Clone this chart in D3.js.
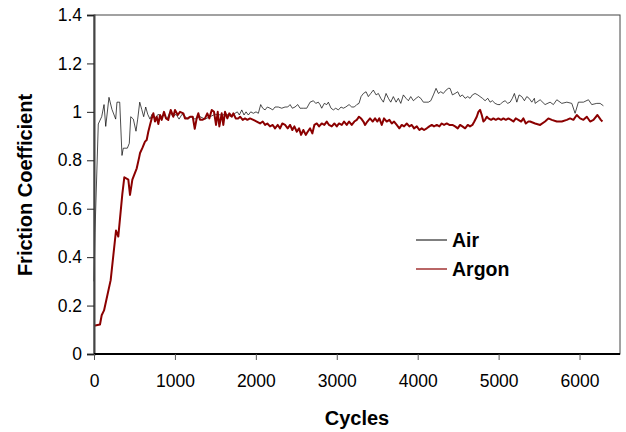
<!DOCTYPE html>
<html>
<head>
<meta charset="utf-8">
<script src="https://cdn.jsdelivr.net/npm/d3@7"></script>
<style>
  body { margin: 0; background: #fff; }
  svg { display: block; font-family: "Liberation Sans", Arial, sans-serif; }
</style>
</head>
<body>
<div id="chart"></div>
<script>
// tick values
const xTicks = [0, 1000, 2000, 3000, 4000, 5000, 6000];
const yTicks = [0, 0.2, 0.4, 0.6, 0.8, 1, 1.2, 1.4];

// Air run (cycles, friction coefficient)
const airCycles = [0, 12, 53, 95, 124, 145, 185, 222, 268, 284, 318, 346, 362, 412, 436, 454, 486, 519, 540, 565,
  590, 614, 639, 664, 692, 717, 754, 791, 828, 865, 902, 939, 976, 1014, 1051, 1088, 1125, 1162, 1199, 1248,
  1310, 1372, 1434, 1496, 1578, 1640, 1693, 1743, 1771, 1796, 1826, 1854, 1879, 1907, 1937, 1969, 2002, 2031, 2060, 2085,
  2114, 2142, 2175, 2209, 2237, 2278, 2320, 2361, 2394, 2423, 2451, 2484, 2518, 2546, 2587, 2629, 2670, 2711, 2740, 2772,
  2793, 2814, 2846, 2876, 2896, 2929, 2958, 2987, 3020, 3053, 3081, 3111, 3152, 3185, 3217, 3247, 3275, 3300, 3329, 3362,
  3390, 3420, 3452, 3486, 3514, 3544, 3576, 3609, 3638, 3667, 3699, 3733, 3761, 3791, 3823, 3856, 3885, 3914, 3947, 3980,
  4008, 4038, 4070, 4104, 4132, 4162, 4194, 4227, 4256, 4285, 4317, 4351, 4379, 4400, 4429, 4462, 4495, 4524, 4552, 4586,
  4619, 4647, 4676, 4709, 4743, 4771, 4800, 4833, 4866, 4895, 4923, 4956, 4990, 5018, 5047, 5080, 5113, 5142, 5170, 5195,
  5225, 5253, 5286, 5319, 5348, 5377, 5410, 5442, 5451, 5513, 5574, 5636, 5677, 5719, 5781, 5843, 5904, 5945, 5986, 6048,
  6110, 6151, 6213, 6254, 6295];
const airValues = [0.3, 0.5, 0.95, 0.98, 1.03, 0.94, 1.06, 1.01, 0.97, 1.04, 1.04, 0.82, 0.85, 0.85, 0.87, 0.98, 0.97, 0.92, 0.97, 1.04,
  1.01, 0.98, 1.02, 0.99, 0.97, 0.99, 0.97, 0.99, 0.98, 0.99, 0.97, 1.0, 0.98, 0.99, 0.97, 0.99, 0.98, 0.97, 0.98, 0.97,
  0.98, 0.97, 0.98, 0.99, 0.987, 0.99, 0.98, 0.994, 1.0, 0.987, 1.008, 0.987, 1.0, 0.987, 1.0, 0.994, 1.0, 0.994, 1.03, 1.015,
  1.008, 1.02, 1.015, 1.008, 1.02, 1.02, 1.015, 1.02, 1.02, 1.03, 1.015, 1.02, 1.03, 1.015, 1.015, 1.015, 1.04, 1.046, 1.035, 1.04,
  1.03, 1.015, 1.035, 1.03, 1.04, 1.015, 1.008, 1.015, 1.008, 1.02, 1.015, 1.02, 1.03, 1.02, 1.02, 1.03, 1.035, 1.063, 1.076, 1.083,
  1.063, 1.076, 1.09, 1.07, 1.076, 1.056, 1.04, 1.076, 1.056, 1.04, 1.063, 1.04, 1.056, 1.035, 1.07, 1.056, 1.046, 1.063, 1.046, 1.056,
  1.063, 1.056, 1.04, 1.04, 1.04, 1.046, 1.07, 1.097, 1.076, 1.083, 1.076, 1.09, 1.097, 1.097, 1.07, 1.076, 1.083, 1.063, 1.07, 1.056,
  1.063, 1.056, 1.07, 1.076, 1.07, 1.063, 1.056, 1.046, 1.056, 1.04, 1.046, 1.035, 1.03, 1.03, 1.04, 1.046, 1.035, 1.04, 1.056, 1.076,
  1.04, 1.07, 1.063, 1.046, 1.063, 1.056, 1.04, 1.056, 1.035, 1.05, 1.03, 1.04, 1.03, 1.05, 1.035, 1.04, 1.035, 0.994, 1.04, 1.04,
  1.05, 1.03, 1.035, 1.035, 1.025];

// Argon run
const argonCycles = [0, 74, 95, 124, 157, 206, 272, 300, 350, 375, 424, 445, 474, 528, 560, 569, 597, 630, 651, 671,
  692, 713, 733, 754, 775, 795, 816, 837, 865, 890, 918, 948, 980, 1001, 1035, 1063, 1104, 1125, 1158, 1187,
  1220, 1245, 1269, 1289, 1310, 1339, 1372, 1400, 1425, 1455, 1483, 1508, 1529, 1549, 1578, 1598, 1619, 1648, 1672, 1702,
  1722, 1751, 1784, 1805, 1838, 1866, 1895, 1928, 1969, 2011, 2052, 2085, 2114, 2142, 2175, 2209, 2237, 2271, 2299, 2327,
  2361, 2394, 2423, 2451, 2476, 2506, 2534, 2559, 2587, 2617, 2641, 2670, 2698, 2723, 2753, 2781, 2814, 2846, 2876, 2904,
  2938, 2970, 3000, 3028, 3062, 3090, 3123, 3152, 3185, 3217, 3247, 3275, 3300, 3329, 3350, 3378, 3411, 3444, 3473, 3502,
  3526, 3556, 3584, 3617, 3650, 3680, 3708, 3741, 3773, 3803, 3832, 3865, 3897, 3927, 3955, 3989, 4021, 4050, 4079, 4112,
  4144, 4174, 4202, 4236, 4268, 4297, 4326, 4359, 4391, 4429, 4462, 4495, 4524, 4552, 4586, 4619, 4647, 4676, 4700, 4730,
  4750, 4771, 4792, 4812, 4833, 4854, 4874, 4907, 4935, 4965, 4997, 5031, 5059, 5089, 5121, 5154, 5183, 5212, 5244, 5278,
  5306, 5336, 5368, 5389, 5451, 5513, 5574, 5615, 5657, 5719, 5781, 5843, 5883, 5924, 5966, 6007, 6048, 6090, 6131, 6172,
  6221, 6263, 6283];
const argonValues = [0.117, 0.122, 0.16, 0.18, 0.23, 0.305, 0.51, 0.485, 0.66, 0.73, 0.72, 0.657, 0.72, 0.767, 0.815, 0.83, 0.85, 0.877, 0.884, 0.918,
  0.946, 0.973, 0.994, 0.96, 0.98, 0.95, 0.987, 0.967, 1.0, 0.973, 0.967, 1.008, 0.98, 1.008, 0.987, 1.0, 0.994, 0.973, 0.973, 0.98,
  0.98, 0.93, 0.973, 0.994, 0.967, 0.967, 0.973, 0.994, 0.973, 1.008, 1.0, 0.946, 1.0, 0.94, 0.994, 0.946, 1.0, 0.973, 0.994, 0.98,
  0.994, 0.973, 0.973, 0.98, 0.967, 0.973, 0.967, 0.973, 0.967, 0.96, 0.952, 0.96, 0.946, 0.952, 0.94, 0.946, 0.932, 0.946, 0.932, 0.952,
  0.946, 0.932, 0.946, 0.925, 0.94, 0.918, 0.932, 0.905, 0.925, 0.905, 0.918, 0.932, 0.911, 0.946, 0.952, 0.94, 0.952, 0.946, 0.96, 0.946,
  0.94, 0.952, 0.94, 0.952, 0.946, 0.96, 0.946, 0.96, 0.946, 0.96, 0.967, 0.98, 0.973, 0.96, 0.946, 0.96, 0.973, 0.96, 0.973, 0.96,
  0.973, 0.946, 0.973, 0.96, 0.967, 0.952, 0.96, 0.946, 0.932, 0.946, 0.94, 0.952, 0.94, 0.946, 0.932, 0.94, 0.925, 0.932, 0.925, 0.932,
  0.94, 0.946, 0.94, 0.946, 0.94, 0.952, 0.946, 0.952, 0.946, 0.946, 0.94, 0.932, 0.946, 0.94, 0.932, 0.946, 0.94, 0.946, 0.96, 0.98,
  1.0, 1.008, 0.987, 0.96, 0.967, 0.98, 0.973, 0.967, 0.973, 0.967, 0.973, 0.967, 0.973, 0.967, 0.973, 0.967, 0.96, 0.973, 0.967, 0.96,
  0.973, 0.952, 0.96, 0.96, 0.952, 0.946, 0.96, 0.973, 0.967, 0.96, 0.96, 0.967, 0.973, 0.967, 0.987, 0.973, 0.967, 0.98, 0.96, 0.967,
  0.987, 0.967, 0.96];

const series = [
  {name: 'Air', cycles: airCycles, values: airValues, color: '#000', width: 0.7, legendWidth: 1},
  {name: 'Argon', cycles: argonCycles, values: argonValues, color: '#8b0000', width: 2, legendWidth: 1.2}
];

const W = 626, H = 432;
const margin = {top: 15, right: 6, bottom: 78, left: 94};
const font = '"Liberation Sans", Arial, sans-serif';

const svg = d3.select('#chart').append('svg')
  .attr('width', W)
  .attr('height', H);

const x = d3.scaleLinear().domain([0, 6500]).range([margin.left, W - margin.right]);
const y = d3.scaleLinear().domain([0, 1.4]).range([H - margin.bottom, margin.top]);

// plot frame (top and right)
svg.append('rect')
  .attr('x', x(0)).attr('y', y(1.4))
  .attr('width', x(6500) - x(0)).attr('height', y(0) - y(1.4))
  .attr('fill', 'none').attr('stroke', '#444').attr('stroke-width', 1);

// lines
const line = d3.line()
  .x(d => x(d[0]))
  .y(d => y(d[1]));

series.forEach(s => {
  let pts = s.cycles.map((c, i) => [c, s.values[i]]);
  svg.append('path')
    .datum(pts)
    .attr('fill', 'none')
    .attr('stroke', s.color)
    .attr('stroke-width', s.width)
    .attr('stroke-linejoin', 'round')
    .attr('d', line);
});

// y axis
const yAxis = svg.append('g')
  .attr('transform', 'translate(' + x(0) + ',0)')
  .call(d3.axisLeft(y).tickValues(yTicks).tickSize(7).tickPadding(5).tickFormat(d3.format('~g')));
yAxis.select('.domain').attr('stroke', '#444').attr('stroke-width', 2);
yAxis.selectAll('.tick line').attr('stroke', '#222');
yAxis.selectAll('text')
  .attr('font-size', '17.5px')
  .attr('fill', '#000')
  .style('font-family', font);

// x axis
const xAxis = svg.append('g')
  .attr('transform', 'translate(0,' + y(0) + ')')
  .call(d3.axisBottom(x).tickValues(xTicks).tickSize(6).tickPadding(15).tickFormat(d3.format('d')));
xAxis.select('.domain').attr('stroke', '#000').attr('stroke-width', 2).attr('d', 'M' + x(0) + ',0H' + x(6500));
xAxis.selectAll('.tick line').attr('stroke', '#555');
xAxis.selectAll('text')
  .attr('font-size', '17.5px')
  .attr('fill', '#000')
  .style('font-family', font);

// axis titles
svg.append('text')
  .attr('x', 357).attr('y', 425)
  .attr('text-anchor', 'middle')
  .attr('font-size', '20px').attr('font-weight', 'bold')
  .text('Cycles');

svg.append('text')
  .attr('transform', 'translate(32,185) rotate(-90)')
  .attr('text-anchor', 'middle')
  .attr('font-size', '20px').attr('font-weight', 'bold')
  .text('Friction Coefficient');

// legend
const legend = svg.append('g').attr('transform', 'translate(416,240)');
series.forEach((s, i) => {
  let g = legend.append('g').attr('transform', 'translate(0,' + (i * 29) + ')');
  g.append('line')
    .attr('x1', 0).attr('x2', 31).attr('y1', 0).attr('y2', 0)
    .attr('stroke', s.color).attr('stroke-width', s.legendWidth);
  g.append('text')
    .attr('x', 36).attr('y', 7)
    .attr('font-size', '19.5px').attr('font-weight', 'bold')
    .text(s.name);
});
</script>
</body>
</html>
